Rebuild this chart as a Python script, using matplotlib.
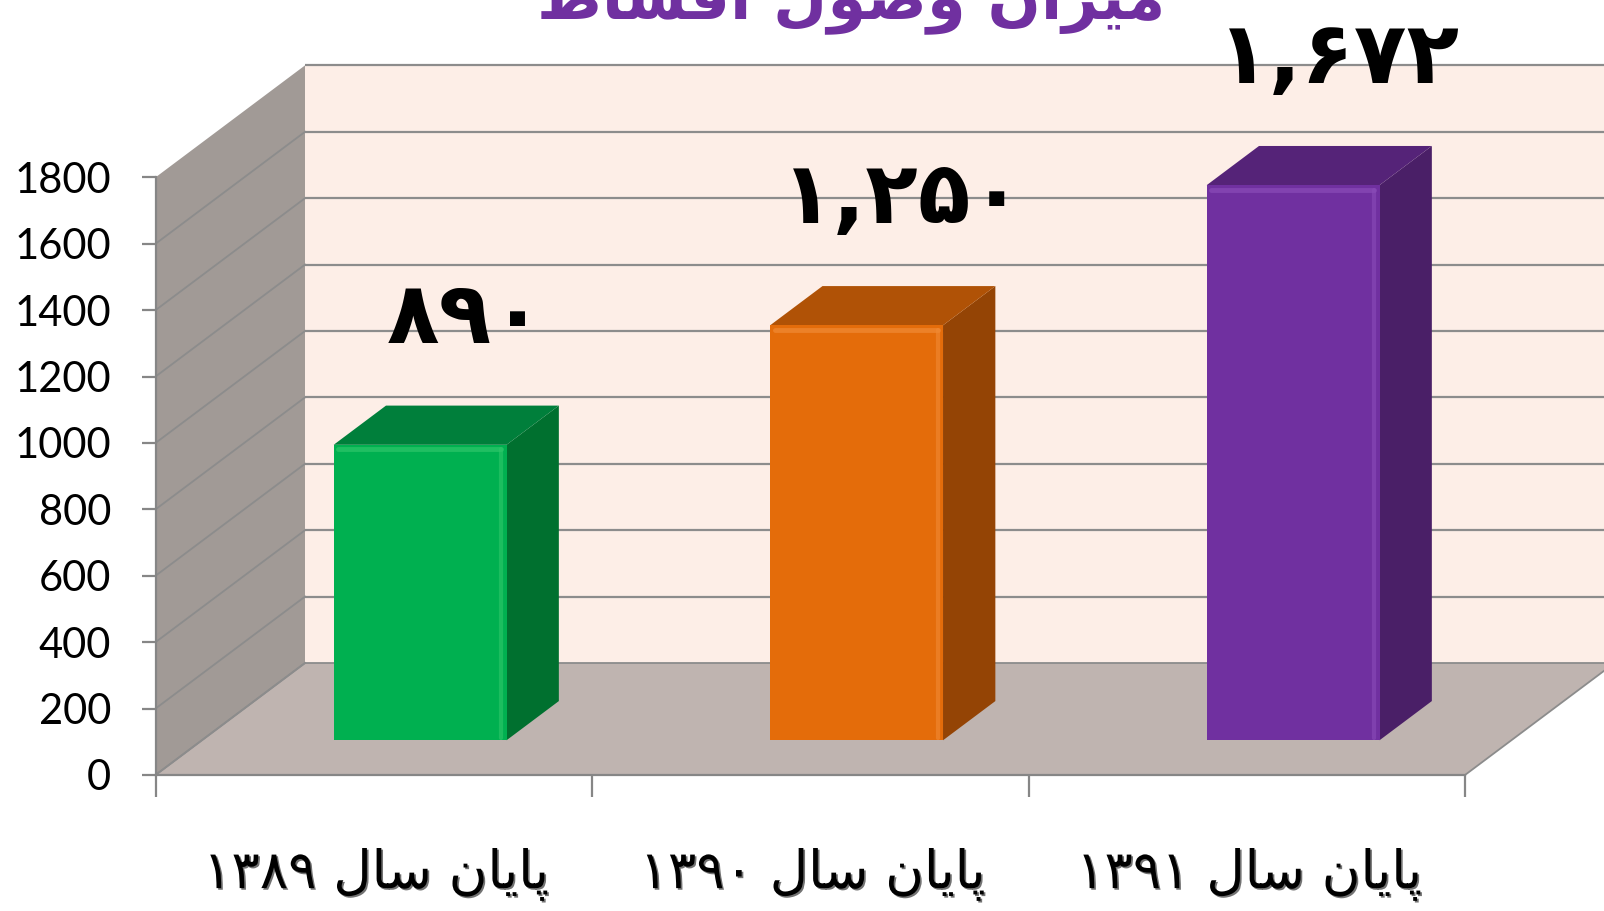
import re
import matplotlib
matplotlib.use('Agg')
import matplotlib.pyplot as plt
from matplotlib.patches import Polygon
from matplotlib import patheffects as pe

# ---------------- data ----------------
categories = ['پایان سال ۱۳۸۹', 'پایان سال ۱۳۹۰', 'پایان سال ۱۳۹۱']
values = [890, 1250, 1672]
value_labels = ['۸۹۰', '۱,۲۵۰', '۱,۶۷۲']
yticks = [0, 200, 400, 600, 800, 1000, 1200, 1400, 1600, 1800]
title = 'میزان وصول اقساط'

front_colors = ['#00b050', '#e46c0a', '#7030a0']
top_colors = ['#007f3b', '#b05206', '#552378']
side_colors = ['#00702f', '#944405', '#4a1f67']
light_colors = ['#2fc66a', '#f08a35', '#8a4cb8']

# ------------- simple Persian shaping (presentation forms, visual order) -------------
FORMS = {  # isolated, final, initial, medial
    'ا': (0xFE8D, 0xFE8E, None, None),
    'پ': (0xFB56, 0xFB57, 0xFB58, 0xFB59),
    'ی': (0xFBFC, 0xFBFD, 0xFBFE, 0xFBFF),
    'ن': (0xFEE5, 0xFEE6, 0xFEE7, 0xFEE8),
    'س': (0xFEB1, 0xFEB2, 0xFEB3, 0xFEB4),
    'ل': (0xFEDD, 0xFEDE, 0xFEDF, 0xFEE0),
    'م': (0xFEE1, 0xFEE2, 0xFEE3, 0xFEE4),
    'ز': (0xFEAF, 0xFEB0, None, None),
    'و': (0xFEED, 0xFEEE, None, None),
    'ص': (0xFEB9, 0xFEBA, 0xFEBB, 0xFEBC),
    'ق': (0xFED5, 0xFED6, 0xFED7, 0xFED8),
    'ط': (0xFEC1, 0xFEC2, 0xFEC3, 0xFEC4),
}


def shape(text):
    out = []
    for i, ch in enumerate(text):
        if ch not in FORMS:
            out.append(ch)
            continue
        prev = text[i - 1] if i > 0 else ''
        nxt = text[i + 1] if i + 1 < len(text) else ''
        jp = prev in FORMS and FORMS[prev][2] is not None
        jn = FORMS[ch][2] is not None and nxt in FORMS
        iso, fin, ini, med = FORMS[ch]
        if jp and jn:
            cp = med
        elif jp:
            cp = fin
        elif jn:
            cp = ini
        else:
            cp = iso
        out.append(chr(cp))
    vis = ''.join(out)[::-1]
    return re.sub(r'[\u06F0-\u06F9,]+', lambda m: m.group(0)[::-1], vis)


# ---------------- geometry ----------------
W, H = 1604, 911
fig = plt.figure(figsize=(W / 100, H / 100), dpi=100)
ax = fig.add_axes([0, 0, 1, 1])

px_cat = (1465 - 155.5) / 3.0
px_val = 0.332
ax.set_xlim(-155.5 / px_cat, (W - 155.5) / px_cat)
ax.set_ylim(-(H - 775) / px_val, 775 / px_val)

DX = 149.5 / px_cat
DY = 112 / px_val
YMAX = yticks[-1]
NC = len(categories)


def P(x, v, d):
    return (x + d * DX, v + d * DY)


def poly(pts, fc, z, ec='none', lw=0):
    ax.add_patch(Polygon(pts, closed=True, facecolor=fc, edgecolor=ec, lw=lw,
                         zorder=z, joinstyle='round'))


def seg(a, b, **kw):
    ax.plot([a[0], b[0]], [a[1], b[1]], **kw)


grid_c = '#8c8c8c'
# back wall, side wall, floor
poly([P(0, 0, 1), P(NC, 0, 1), P(NC, YMAX, 1), P(0, YMAX, 1)], '#fdeee7', 1)
poly([P(0, 0, 0), P(0, 0, 1), P(0, YMAX, 1), P(0, YMAX, 0)], '#a19a96', 1)
poly([P(0, 0, 0), P(NC, 0, 0), P(NC, 0, 1), P(0, 0, 1)], '#bfb4b0', 1.5, ec=grid_c, lw=1.3)

for v in yticks[1:]:
    seg(P(0, v, 1), P(NC, v, 1), color=grid_c, lw=1.6, zorder=2, solid_capstyle='butt')
for v in yticks[:-1]:
    seg(P(0, v, 0), P(0, v, 1), color=grid_c, lw=1.3, zorder=2)

# bars
d0, d1 = 0.31, 0.66
hw = 0.198
for i, v in enumerate(values):
    x0, x1 = i + 0.5 - hw, i + 0.5 + hw
    poly([P(x1, 0, d0), P(x1, 0, d1), P(x1, v, d1), P(x1, v, d0)], side_colors[i], 3)
    poly([P(x0, v, d0), P(x1, v, d0), P(x1, v, d1), P(x0, v, d1)], top_colors[i], 3)
    poly([P(x0, 0, d0), P(x1, 0, d0), P(x1, v, d0), P(x0, v, d0)], front_colors[i], 4)
    # soft bevel highlights
    seg(P(x0 + 0.01, v - 14, d0), P(x1 - 0.012, v - 14, d0), color=light_colors[i],
        lw=3.5, alpha=0.7, zorder=4.5, solid_capstyle='round')
    seg(P(x1 - 0.012, 8, d0), P(x1 - 0.012, v - 14, d0), color=light_colors[i],
        lw=3.0, alpha=0.6, zorder=4.5, solid_capstyle='round')
    lx, ly = P(i + 0.5, v + 190, d1)
    ax.text(lx - 0.015, ly, shape(value_labels[i]), ha='center', va='baseline',
            fontsize=62, fontweight='bold', family=['DejaVu Sans'], color='black', zorder=6)
    ax.text(i + 0.505, -300, shape(categories[i]), ha='center', va='center',
            fontsize=38, family=['DejaVu Sans'], color='black', zorder=6,
            path_effects=[pe.withSimplePatchShadow(offset=(1.2, -1.2), shadow_rgbFace='#000000',
                                                   alpha=0.55)])

# axes (front plane)
for s in ['top', 'right']:
    ax.spines[s].set_visible(False)
axis_c = '#868686'
ax.spines['left'].set_position(('data', 0))
ax.spines['left'].set_bounds(0, YMAX)
ax.spines['bottom'].set_position(('data', 0))
ax.spines['bottom'].set_bounds(0, NC)
for s in ['left', 'bottom']:
    ax.spines[s].set_color(axis_c)
    ax.spines[s].set_linewidth(1.6)
    ax.spines[s].set_zorder(5)
ax.set_yticks(yticks)
ax.set_yticklabels([str(t) for t in yticks])
ax.set_xticks(range(NC + 1))
ax.set_xticklabels([])
ax.tick_params(axis='y', length=10, width=1.6, color=axis_c, pad=22, labelsize=30)
ax.tick_params(axis='x', length=16, width=1.6, color=axis_c)
for lab in ax.get_yticklabels():
    lab.set_fontfamily(['Lato', 'DejaVu Sans'])

# title (partially cut at the top)
fig.text(851 / W, 1 - 18 / H, shape(title), ha='center', va='baseline',
         fontsize=45, fontweight='bold', color='#7030a0', family=['DejaVu Sans'])

fig.savefig('out.png', dpi=100)
